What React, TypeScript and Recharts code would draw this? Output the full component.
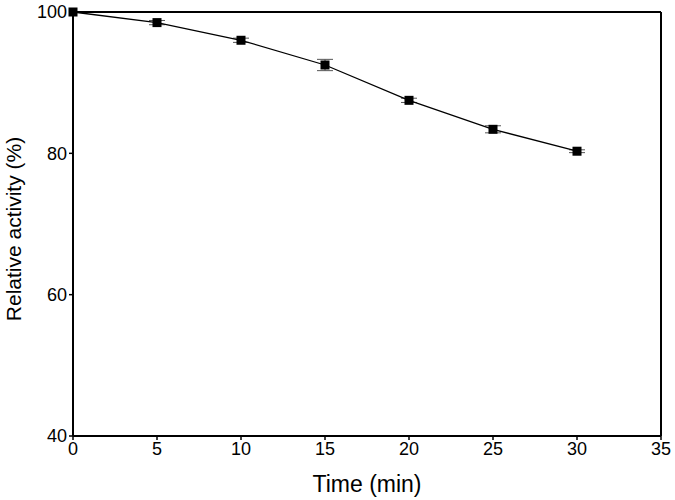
import React from "react";
import {
  LineChart,
  Line,
  XAxis,
  YAxis,
  ErrorBar,
  ReferenceLine,
} from "recharts";

const times = [0, 5, 10, 15, 20, 25, 30];
const activity = [100, 98.5, 96.0, 92.5, 87.5, 83.4, 80.3];
const errors = [0, 0.3, 0.3, 0.8, 0.3, 0.5, 0.2];
const xTicks = [0, 5, 10, 15, 20, 25, 30, 35];
const yTicks = [40, 60, 80, 100];

const data = times.map((t, i) => ({ time: t, value: activity[i], err: errors[i] }));

const font = "Arial, 'Liberation Sans', sans-serif";

function SquareDot(props: any) {
  const { cx, cy } = props;
  if (cx == null || cy == null) return null;
  return <rect x={cx - 4.5} y={cy - 4.5} width={9} height={9} fill="#000" />;
}

export default function App() {
  return (
    <div style={{ position: "absolute", left: 0, top: 0, background: "#fff" }}>
      <LineChart
        width={675}
        height={500}
        data={data}
        margin={{ top: 12, right: 14, bottom: 0, left: 0 }}
      >
        <XAxis
          dataKey="time"
          type="number"
          domain={[0, 35]}
          ticks={xTicks}
          tickSize={4}
          axisLine={{ stroke: "#000", strokeWidth: 2 }}
          tickLine={{ stroke: "#000", strokeWidth: 1.5 }}
          tick={{ fill: "#000", fontSize: 18, fontFamily: font }}
          height={64}
          label={{
            value: "Time (min)",
            position: "insideBottom",
            offset: 8,
            fill: "#000",
            fontSize: 23,
            fontFamily: font,
          }}
        />
        <YAxis
          type="number"
          domain={[40, 100]}
          ticks={yTicks}
          tickSize={4}
          width={73}
          axisLine={{ stroke: "#000", strokeWidth: 2 }}
          tickLine={{ stroke: "#000", strokeWidth: 1.5 }}
          tick={{ fill: "#000", fontSize: 18, fontFamily: font }}
          label={{
            value: "Relative activity (%)",
            angle: -90,
            position: "insideLeft",
            offset: 14,
            dy: 5,
            style: { textAnchor: "middle" },
            fill: "#000",
            fontSize: 21,
            fontFamily: font,
          }}
        />
        <ReferenceLine y={100} stroke="#000" strokeWidth={2} />
        <ReferenceLine x={35} stroke="#000" strokeWidth={2} />
        <Line
          dataKey="value"
          stroke="#000"
          strokeWidth={1.3}
          dot={<SquareDot />}
          activeDot={false}
          isAnimationActive={false}
        >
          <ErrorBar dataKey="err" width={8} stroke="#555" strokeWidth={1} direction="y" />
        </Line>
      </LineChart>
    </div>
  );
}
